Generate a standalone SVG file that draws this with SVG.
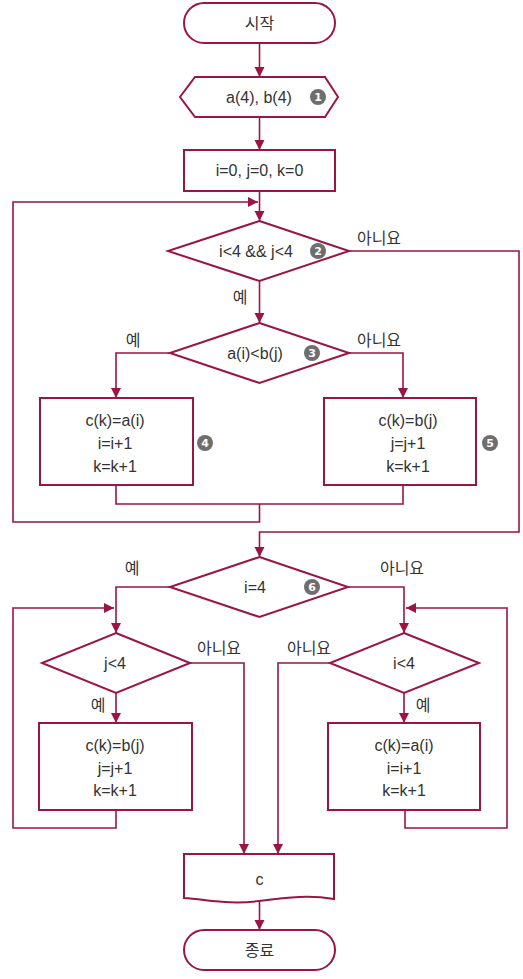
<svg xmlns="http://www.w3.org/2000/svg" width="523" height="979" viewBox="0 0 523 979">
<style>
.s{fill:#fff;stroke:#9b1446;stroke-width:2}
.c{fill:none;stroke:#9b1446;stroke-width:1.6}
.t{font-family:"Liberation Sans","Noto Sans CJK KR",sans-serif;font-size:16px;fill:#333;text-anchor:middle;dominant-baseline:central}
.b circle{fill:#6e6e6e}
.b text{font-family:"DejaVu Sans",sans-serif;font-size:11px;font-weight:bold;fill:#fff;text-anchor:middle;dominant-baseline:central}
</style>
<defs>
<marker id="a" markerUnits="userSpaceOnUse" markerWidth="10" markerHeight="12" refX="10" refY="5" orient="auto" viewBox="0 0 10 10">
<path d="M0,0 L10,5 L0,10 Z" fill="#9b1446"/>
</marker>
</defs>
<g id="connectors">
<path class="c" d="M259.5,43 V77" marker-end="url(#a)"/>
<path class="c" d="M259.5,117 V150" marker-end="url(#a)"/>
<path class="c" d="M259.5,191 V221" marker-end="url(#a)"/>
<path class="c" d="M259.5,281 V323" marker-end="url(#a)"/>
<path class="c" d="M170,353 H116 V398" marker-end="url(#a)"/>
<path class="c" d="M349,353 H403 V398" marker-end="url(#a)"/>
<path class="c" d="M116,485 V504 H403 V485"/>
<path class="c" d="M259.5,504 V522 H13 V202 H258" marker-end="url(#a)"/>
<path class="c" d="M349,251 H519 V532 H259.5 V557" marker-end="url(#a)"/>
<path class="c" d="M170,587 H116 V633" marker-end="url(#a)"/>
<path class="c" d="M348,587 H404 V633" marker-end="url(#a)"/>
<path class="c" d="M116,693 V723" marker-end="url(#a)"/>
<path class="c" d="M404,693 V723" marker-end="url(#a)"/>
<path class="c" d="M116,810 V828 H13 V608 H114" marker-end="url(#a)"/>
<path class="c" d="M405,810 V828 H507 V608 H406" marker-end="url(#a)"/>
<path class="c" d="M190,663 H244 V854" marker-end="url(#a)"/>
<path class="c" d="M330,663 H278 V854" marker-end="url(#a)"/>
<path class="c" d="M259.5,900 V930" marker-end="url(#a)"/>
</g>
<g id="start">
<rect class="s" x="184" y="3" width="151" height="40" rx="20"/>
<text class="t" x="259.5" y="23">시작</text>
</g>
<g id="input">
<path class="s" d="M195,77 H325 L338,97 L325,117 H195 L180,97 Z"/>
<text class="t" x="259" y="97">a(4), b(4)</text>
<g class="b"><circle cx="318" cy="97" r="8"/><text x="318" y="97">1</text></g>
</g>
<g id="init">
<rect class="s" x="184" y="150" width="151" height="41"/>
<text class="t" x="259.5" y="170">i=0, j=0, k=0</text>
</g>
<g id="cond2">
<path class="s" d="M259.5,221 L349,251 L259.5,281 L168,251 Z"/>
<text class="t" x="256" y="251">i&lt;4 &amp;&amp; j&lt;4</text>
<g class="b"><circle cx="318" cy="251" r="8"/><text x="318" y="251">2</text></g>
<text class="t" x="379" y="238">아니요</text>
<text class="t" x="240" y="297">예</text>
</g>
<g id="cond3">
<path class="s" d="M259.5,323 L349,353 L259.5,383 L170,353 Z"/>
<text class="t" x="255" y="353">a(i)&lt;b(j)</text>
<g class="b"><circle cx="312" cy="353" r="8"/><text x="312" y="353">3</text></g>
<text class="t" x="133" y="340">예</text>
<text class="t" x="379" y="340">아니요</text>
</g>
<g id="box4">
<rect class="s" x="40" y="398" width="153" height="87"/>
<text class="t" x="115" y="420">c(k)=a(i)</text>
<text class="t" x="115" y="443">i=i+1</text>
<text class="t" x="115" y="466">k=k+1</text>
<g class="b"><circle cx="205" cy="443" r="8"/><text x="205" y="443">4</text></g>
</g>
<g id="box5">
<rect class="s" x="324" y="398" width="152" height="87"/>
<text class="t" x="408" y="420">c(k)=b(j)</text>
<text class="t" x="408" y="443">j=j+1</text>
<text class="t" x="408" y="466">k=k+1</text>
<g class="b"><circle cx="490" cy="443" r="8"/><text x="490" y="443">5</text></g>
</g>
<g id="cond6">
<path class="s" d="M259.5,557 L348,587 L259.5,617 L170,587 Z"/>
<text class="t" x="255" y="587">i=4</text>
<g class="b"><circle cx="312" cy="587" r="8"/><text x="312" y="587">6</text></g>
<text class="t" x="132" y="568">예</text>
<text class="t" x="402" y="568">아니요</text>
</g>
<g id="condj">
<path class="s" d="M116,633 L190,663 L116,693 L42,663 Z"/>
<text class="t" x="115" y="663">j&lt;4</text>
<text class="t" x="219" y="648">아니요</text>
<text class="t" x="98" y="705">예</text>
</g>
<g id="condi">
<path class="s" d="M404,633 L479,663 L404,693 L330,663 Z"/>
<text class="t" x="404" y="663">i&lt;4</text>
<text class="t" x="309" y="648">아니요</text>
<text class="t" x="423" y="705">예</text>
</g>
<g id="boxj">
<rect class="s" x="39" y="723" width="153" height="87"/>
<text class="t" x="115" y="745">c(k)=b(j)</text>
<text class="t" x="115" y="768">j=j+1</text>
<text class="t" x="115" y="790">k=k+1</text>
</g>
<g id="boxi">
<rect class="s" x="328" y="723" width="152" height="87"/>
<text class="t" x="404" y="745">c(k)=a(i)</text>
<text class="t" x="404" y="768">i=i+1</text>
<text class="t" x="404" y="790">k=k+1</text>
</g>
<g id="output">
<path class="s" d="M184,854 H334 V899 C310,895 290,897 259,901 C230,905 210,900 184,898 Z"/>
<text class="t" x="259.5" y="879">c</text>
</g>
<g id="end">
<rect class="s" x="184" y="930" width="151" height="40" rx="20"/>
<text class="t" x="259.5" y="950">종료</text>
</g>
</svg>
